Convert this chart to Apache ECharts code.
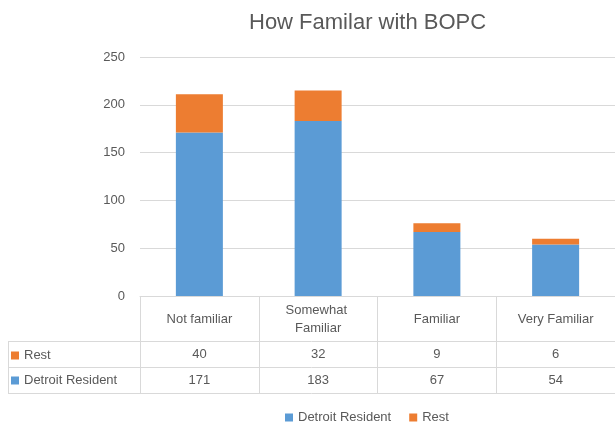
<!DOCTYPE html>
<html><head><meta charset="utf-8">
<script src="https://cdn.jsdelivr.net/npm/echarts@6/dist/echarts.min.js"></script>
<style>html,body{margin:0;padding:0;background:#fff}#c{width:615px;height:436px}</style>
</head><body><div id="c"></div>
<script>
const categories = ['Not familiar', 'Somewhat Familiar', 'Familiar', 'Very Familiar'];
const detroitResident = [171, 183, 67, 54];
const rest = [40, 32, 9, 6];
const yTicks = { min: 0, max: 250, interval: 50 };

const FONT = 'Liberation Sans';
const TXT = '#595959';
const GRIDC = '#d9d9d9';
const BLUE = '#5b9bd5', ORANGE = '#ed7d31';

const chart = echarts.init(document.getElementById('c'));
const hLine = (x1, y, x2) => ({ type: 'line', shape: { x1: x1, y1: y, x2: x2, y2: y }, style: { stroke: GRIDC, lineWidth: 1 }, silent: true });
chart.setOption({
  animation: false,
  textStyle: { fontFamily: FONT },
  title: { text: 'How Familar with BOPC', left: 244, top: 7,
    textStyle: { fontFamily: FONT, fontSize: 22, fontWeight: 'normal', color: TXT } },
  legend: [
    { data: ['Detroit Resident', 'Rest'], left: 280, top: 406, icon: 'rect', itemWidth: 8, itemHeight: 8, itemGap: 18,
      textStyle: { fontFamily: FONT, fontSize: 13, color: TXT } },
    { data: ['Rest', 'Detroit Resident'], orient: 'vertical', left: 11, top: 349, icon: 'rect', itemWidth: 8, itemHeight: 8, itemGap: 12, itemTextGap: 4, padding: 0,
      textStyle: { fontFamily: FONT, fontSize: 13, color: TXT } }
  ],
  grid: { left: 140, right: 0, top: 57, bottom: 140 },
  yAxis: { type: 'value', min: yTicks.min, max: yTicks.max, interval: yTicks.interval,
    axisLabel: { color: TXT, fontSize: 13, margin: 15, fontFamily: FONT },
    axisLine: { show: false }, axisTick: { show: false },
    splitLine: { lineStyle: { color: GRIDC, width: 1 } } },
  xAxis: [
    { type: 'category', data: categories, position: 'bottom',
      axisLine: { lineStyle: { color: GRIDC } },
      axisTick: { show: true, interval: 0, length: 97, lineStyle: { color: GRIDC } },
      axisLabel: { interval: 0, color: TXT, fontSize: 13, fontFamily: FONT, width: 100, overflow: 'break',
        verticalAlign: 'middle', margin: 23, lineHeight: 18 } },
    { type: 'category', data: rest.map(String), position: 'bottom', offset: 58,
      axisLine: { show: false }, axisTick: { show: false },
      axisLabel: { interval: 0, color: TXT, fontSize: 13, fontFamily: FONT, verticalAlign: 'middle', margin: 0 } },
    { type: 'category', data: detroitResident.map(String), position: 'bottom', offset: 84,
      axisLine: { show: false }, axisTick: { show: false },
      axisLabel: { interval: 0, color: TXT, fontSize: 13, fontFamily: FONT, verticalAlign: 'middle', margin: 0 } }
  ],
  series: [
    { name: 'Detroit Resident', type: 'bar', stack: 's', data: detroitResident, barWidth: 47, itemStyle: { color: BLUE } },
    { name: 'Rest', type: 'bar', stack: 's', data: rest, barWidth: 47, itemStyle: { color: ORANGE } }
  ],
  graphic: [
    hLine(8, 341.5, 615), hLine(8, 367.5, 615), hLine(8, 393.5, 615),
    { type: 'line', shape: { x1: 8.5, y1: 341, x2: 8.5, y2: 394 }, style: { stroke: GRIDC, lineWidth: 1 }, silent: true }
  ]
});
</script></body></html>
